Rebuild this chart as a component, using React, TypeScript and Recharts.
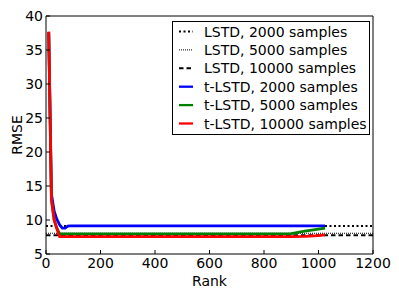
import React from "react";
import {
  LineChart,
  Line,
  XAxis,
  YAxis,
  Legend,
} from "recharts";

// ranks at which t-LSTD was evaluated
const RANKS = [10, 20, 30, 40, 50, 60, 70, 80, 90, 100, 200, 300, 400, 500, 600, 700, 800, 900, 950, 1000, 1024];

const T2000 = [37.6, 13.8, 11.3, 10.1, 9.3, 8.8, 8.8, 9.1, 9.15, 9.15, 9.15, 9.15, 9.15, 9.15, 9.15, 9.15, 9.15, 9.15, 9.15, 9.15, 9.15];
const T5000 = [37.6, 13.0, 10.0, 8.8, 7.95, 7.95, 7.95, 7.95, 7.95, 7.95, 7.95, 7.95, 7.95, 7.95, 7.95, 7.95, 7.95, 8.0, 8.35, 8.65, 8.8];
const T10000 = [37.7, 13.0, 10.0, 8.7, 7.55, 7.55, 7.55, 7.55, 7.55, 7.55, 7.55, 7.55, 7.55, 7.55, 7.55, 7.55, 7.55, 7.55, 7.6, 7.7, 7.8];

// LSTD baselines (constant over rank)
const LSTD_RANGE = [0, 1200];
const LSTD2000 = 9.1;
const LSTD5000 = 8.05;
const LSTD10000 = 7.75;

const X_TICKS = [0, 200, 400, 600, 800, 1000, 1200];
const Y_TICKS = [5, 10, 15, 20, 25, 30, 35, 40];

const tData = RANKS.map((rank, i) => ({
  rank,
  t2000: T2000[i],
  t5000: T5000[i],
  t10000: T10000[i],
}));

const flat = (v: number) => LSTD_RANGE.map((rank) => ({ rank, v }));

const SERIES = [
  { name: "LSTD, 2000 samples", color: "#000", width: 2, dash: "2 2.5" },
  { name: "LSTD, 5000 samples", color: "#000", width: 1, dash: "1 1" },
  { name: "LSTD, 10000 samples", color: "#000", width: 2, dash: "4.5 3" },
  { name: "t-LSTD, 2000 samples", color: "#0000ff", width: 2.8, dash: undefined },
  { name: "t-LSTD, 5000 samples", color: "#008000", width: 2.8, dash: undefined },
  { name: "t-LSTD, 10000 samples", color: "#ff0000", width: 2.8, dash: undefined },
];

const FONT = "'DejaVu Sans', sans-serif";
const FS = 14;

function LegendBox() {
  const rowH = 18.4;
  return (
    <svg width={198} height={114} style={{ display: "block" }}>
      <rect x={0.5} y={0.5} width={197} height={113} fill="#fff" stroke="#000" />
      {SERIES.map((s, i) => {
        const y = 10.5 + i * rowH;
        return (
          <g key={s.name}>
            <line
              x1={7}
              x2={21}
              y1={y}
              y2={y}
              stroke={s.color}
              strokeWidth={Math.min(s.width, 2.3)}
              strokeDasharray={s.dash}
            />
            <text x={32} y={y + 5} fontSize={FS} fontFamily={FONT} fill="#000">
              {s.name}
            </text>
          </g>
        );
      })}
    </svg>
  );
}

export default function App() {
  return (
    <div style={{ position: "absolute", left: 0, top: 0, fontFamily: FONT }}>
      <LineChart
        width={399}
        height={299}
        margin={{ top: 15, right: 25, bottom: 0, left: 0 }}
      >
        <XAxis
          dataKey="rank"
          type="number"
          domain={[0, 1200]}
          ticks={X_TICKS}
          interval={0}
          height={45}
          tickSize={-4}
          tickMargin={8}
          stroke="#000"
          tick={{ fill: "#000", fontSize: FS }}
          allowDataOverflow
          label={{ value: "Rank", position: "insideBottom", offset: 13, fill: "#000", fontSize: FS }}
        />
        <XAxis
          xAxisId="top"
          orientation="top"
          type="number"
          domain={[0, 1200]}
          ticks={X_TICKS}
          interval={0}
          height={1}
          tickSize={-4}
          stroke="#000"
          tickFormatter={() => ""}
        />
        <YAxis
          type="number"
          domain={[5, 40]}
          ticks={Y_TICKS}
          interval={0}
          width={46}
          tickSize={-4}
          tickMargin={7}
          stroke="#000"
          tick={{ fill: "#000", fontSize: FS }}
          allowDataOverflow
          label={{
            value: "RMSE",
            content: (props: any) => {
              const vb = props.viewBox || { x: 0, y: 16, height: 238 };
              const x = vb.x + 22;
              const y = vb.y + vb.height / 2;
              return (
                <text
                  x={x}
                  y={y}
                  transform={`rotate(-90 ${x} ${y})`}
                  textAnchor="middle"
                  fontSize={FS}
                  fill="#000"
                >
                  RMSE
                </text>
              );
            },
          }}
        />
        <YAxis
          yAxisId="right"
          orientation="right"
          type="number"
          domain={[5, 40]}
          ticks={Y_TICKS}
          interval={0}
          width={1}
          tickSize={-4}
          stroke="#000"
          tickFormatter={() => ""}
        />

        <Line
          data={flat(LSTD2000)}
          dataKey="v"
          name={SERIES[0].name}
          stroke="#000"
          strokeWidth={2}
          strokeDasharray="2 2.5"
          dot={false}
          isAnimationActive={false}
        />
        <Line
          data={flat(LSTD5000)}
          dataKey="v"
          name={SERIES[1].name}
          stroke="#000"
          strokeWidth={1}
          strokeDasharray="1 1"
          dot={false}
          isAnimationActive={false}
        />
        <Line
          data={flat(LSTD10000)}
          dataKey="v"
          name={SERIES[2].name}
          stroke="#000"
          strokeWidth={2}
          strokeDasharray="4.5 3"
          dot={false}
          isAnimationActive={false}
        />
        <Line
          data={tData}
          dataKey="t2000"
          name={SERIES[3].name}
          stroke="#0000ff"
          strokeWidth={2.8}
          dot={false}
          isAnimationActive={false}
        />
        <Line
          data={tData}
          dataKey="t5000"
          name={SERIES[4].name}
          stroke="#008000"
          strokeWidth={2.8}
          dot={false}
          isAnimationActive={false}
        />
        <Line
          data={tData}
          dataKey="t10000"
          name={SERIES[5].name}
          stroke="#ff0000"
          strokeWidth={2.8}
          dot={false}
          isAnimationActive={false}
        />

        <Legend
          layout="vertical"
          align="center"
          verticalAlign="middle"
          wrapperStyle={{ left: 172, top: 21, width: 198, height: 114 }}
          content={() => <LegendBox />}
        />
      </LineChart>
    </div>
  );
}
